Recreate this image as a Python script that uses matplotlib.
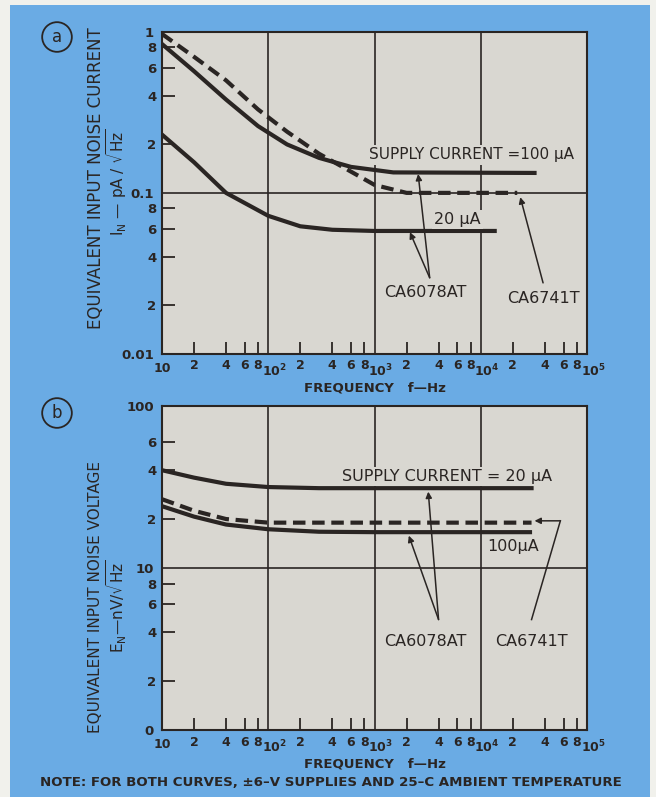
import matplotlib
matplotlib.use("Agg")
import matplotlib.pyplot as plt
from matplotlib.patches import Rectangle
from matplotlib.transforms import ScaledTranslation

# ---- data ----
# (a) equivalent input noise current, pA/sqrt(Hz)
freq_a_6741 = [10, 20, 40, 80, 150, 300, 500, 1000, 2000, 22000]
noise_a_6741 = [0.97, 0.70, 0.50, 0.33, 0.24, 0.175, 0.145, 0.112, 0.10, 0.10]
freq_a_100u = [10, 20, 40, 80, 150, 300, 600, 1500, 32000]
noise_a_100u = [0.84, 0.57, 0.38, 0.26, 0.20, 0.165, 0.145, 0.134, 0.133]
freq_a_20u = [10, 20, 40, 100, 200, 400, 1000, 13500]
noise_a_20u = [0.23, 0.155, 0.10, 0.072, 0.062, 0.059, 0.058, 0.058]

# (b) equivalent input noise voltage, nV/sqrt(Hz)
freq_b_20u = [10, 20, 40, 100, 300, 30000]
noise_b_20u = [40, 36, 33, 31.5, 31, 31]
freq_b_6741 = [10, 20, 40, 100, 30000]
noise_b_6741 = [26.5, 22.5, 20, 19, 19]
freq_b_100u = [10, 20, 40, 100, 300, 1000, 29000]
noise_b_100u = [24, 20.7, 18.5, 17.3, 16.7, 16.6, 16.6]

x_major = [10, 100, 1000, 10000, 100000]
x_major_labels = ['10', '$\\mathregular{10^2}$', '$\\mathregular{10^3}$',
                  '$\\mathregular{10^4}$', '$\\mathregular{10^5}$']
x_minor = [m * d for d in [10, 100, 1000, 10000] for m in (2, 4, 6, 8)]
x_minor_labels = ['2', '4', '6', '8'] * 4

ya_major = [0.01, 0.1, 1]
ya_major_labels = ['0.01', '0.1', '1']
ya_minor = [0.02, 0.04, 0.06, 0.08, 0.2, 0.4, 0.6, 0.8]
ya_minor_labels = ['2', '4', '6', '8'] * 2

yb_major = [1, 10, 100]
yb_major_labels = ['0', '10', '100']
yb_minor = [2, 4, 6, 8, 20, 40, 60]
yb_minor_labels = ['2', '4', '6', '8', '2', '4', '6']

BLUE = '#6aabe4'
PANEL = '#d9d7d1'
INK = '#2a2523'

plt.rcParams['font.family'] = 'DejaVu Sans'
fig = plt.figure(figsize=(6.56, 7.97), dpi=100)
fig.patch.set_facecolor('#f1f1ec')
fig.patches.append(Rectangle((10 / 656, 0), 640 / 656, 792 / 797,
                             transform=fig.transFigure, facecolor=BLUE,
                             edgecolor='none', zorder=-10))

ax_a = fig.add_axes([0.247, 0.556, 0.648, 0.404])
ax_b = fig.add_axes([0.247, 0.084, 0.648, 0.407])

shift = ScaledTranslation(6 / 100, 0, fig.dpi_scale_trans)


def style_axes(ax, ymin, ymax, ymaj, ymaj_lab, ymin_t, ymin_lab):
    ax.set_facecolor(PANEL)
    ax.set_xscale('log')
    ax.set_yscale('log')
    ax.set_xlim(10, 100000)
    ax.set_ylim(ymin, ymax)
    ax.set_xticks(x_major)
    ax.set_xticklabels(x_major_labels)
    ax.set_xticks(x_minor, minor=True)
    ax.set_xticklabels(x_minor_labels, minor=True)
    ax.set_yticks(ymaj)
    ax.set_yticklabels(ymaj_lab)
    ax.set_yticks(ymin_t, minor=True)
    ax.set_yticklabels(ymin_lab, minor=True)
    ax.tick_params(which='major', length=0, labelsize=9.5, labelcolor=INK)
    ax.tick_params(axis='x', which='major', pad=6, labelsize=9)
    ax.tick_params(axis='y', which='major', pad=6)
    ax.tick_params(which='minor', direction='in', length=9, width=1.3,
                   color=INK, labelsize=9.5, labelcolor=INK, pad=4)
    ax.tick_params(axis='x', which='minor', labelsize=9)
    for lab in ax.get_xticklabels(which='both') + ax.get_yticklabels(which='both'):
        lab.set_fontweight('bold')
    # decade labels sit a little to the right of their gridline
    for lab in ax.get_xticklabels()[1:]:
        lab.set_transform(lab.get_transform() + shift)
    ax.grid(True, which='major', color=INK, lw=1.2)
    for side in ['top', 'right', 'left', 'bottom']:
        ax.spines[side].set_color(INK)
        ax.spines[side].set_linewidth(1.5)
    ax.set_xlabel('FREQUENCY   f\u2014Hz', fontsize=9.5, fontweight='bold',
                  color=INK, labelpad=2)


dash = (0, (3, 1.6))
txt_box = dict(facecolor=PANEL, edgecolor='none', pad=1.5)
arrow = dict(arrowstyle='-|>', color=INK, lw=1.1, mutation_scale=9,
             shrinkA=0, shrinkB=0)

# ---- panel (a) ----
style_axes(ax_a, 0.01, 1, ya_major, ya_major_labels, ya_minor, ya_minor_labels)
ax_a.plot(freq_a_6741, noise_a_6741, color=INK, lw=3, ls=dash)
ax_a.plot(freq_a_100u, noise_a_100u, color=INK, lw=3)
ax_a.plot(freq_a_20u, noise_a_20u, color=INK, lw=3)

ax_a.text(8100, 0.172, 'SUPPLY CURRENT =100 \u03bcA', ha='center', va='center',
          fontsize=11, color=INK, bbox=txt_box)
ax_a.text(6000, 0.068, '20 \u03bcA', ha='center', va='center', fontsize=11.5,
          color=INK, bbox=txt_box)
ax_a.text(3000, 0.024, 'CA6078AT', ha='center', va='center', fontsize=11.5,
          color=INK, bbox=txt_box)
ax_a.text(39000, 0.022, 'CA6741T', ha='center', va='center', fontsize=11.5,
          color=INK, bbox=txt_box)
ax_a.annotate('', xy=(2570, 0.131), xytext=(3300, 0.0297), arrowprops=arrow)
ax_a.annotate('', xy=(2150, 0.057), xytext=(3300, 0.0297), arrowprops=arrow)
ax_a.annotate('', xy=(23500, 0.094), xytext=(38500, 0.0276), arrowprops=arrow)

# ---- panel (b) ----
style_axes(ax_b, 1, 100, yb_major, yb_major_labels, yb_minor, yb_minor_labels)
ax_b.plot(freq_b_20u, noise_b_20u, color=INK, lw=3)
ax_b.plot(freq_b_6741, noise_b_6741, color=INK, lw=3, ls=dash)
ax_b.plot(freq_b_100u, noise_b_100u, color=INK, lw=3)

ax_b.text(4800, 36.5, 'SUPPLY CURRENT = 20 \u03bcA', ha='center', va='center',
          fontsize=11.5, color=INK, bbox=txt_box)
ax_b.text(20000, 13.5, '100\u03bcA', ha='center', va='center', fontsize=11.5,
          color=INK, bbox=txt_box)
ax_b.text(3000, 3.5, 'CA6078AT', ha='center', va='center', fontsize=11.5,
          color=INK, bbox=txt_box)
ax_b.text(30000, 3.5, 'CA6741T', ha='center', va='center', fontsize=11.5,
          color=INK, bbox=txt_box)
ax_b.annotate('', xy=(3200, 29.5), xytext=(4000, 4.8), arrowprops=arrow)
ax_b.annotate('', xy=(2100, 15.8), xytext=(4000, 4.8), arrowprops=arrow)
ax_b.plot([30000, 56000], [4.8, 19.5], color=INK, lw=1.1)
ax_b.annotate('', xy=(32000, 19.5), xytext=(56000, 19.5), arrowprops=arrow)

# y axis titles (two lines each, placed like the original lettering)
ylab_a = [('EQUIVALENT INPUT NOISE CURRENT', 96, 178, 12),
          ('$\\mathregular{I_N}$ \u2014 pA / $\\sqrt{\\mathregular{Hz}}$', 117, 182, 11)]
ylab_b = [('EQUIVALENT INPUT NOISE VOLTAGE', 96, 597, 11),
          ('$\\mathregular{E_N}$\u2014nV/$\\sqrt{\\mathregular{Hz}}$', 117, 606, 11)]
for s, xp, yp, fs in ylab_a + ylab_b:
    fig.text(xp / 656, 1 - yp / 797, s, rotation=90, ha='center', va='center',
             fontsize=fs, color=INK)

# panel tags
for tag, ypx in [('a', 37), ('b', 413)]:
    fig.text(57 / 656, 1 - ypx / 797, tag, ha='center', va='center',
             fontsize=12, color=INK,
             bbox=dict(boxstyle='circle,pad=0.35', facecolor='none',
                       edgecolor=INK, lw=1.3))

fig.text(331 / 656, 1 - 783 / 797,
         'NOTE: FOR BOTH CURVES, \u00b16\u2013V SUPPLIES AND 25\u2013C AMBIENT TEMPERATURE',
         ha='center', va='center', fontsize=9.6, fontweight='bold', color=INK)

fig.savefig('out.png', dpi=100, facecolor=fig.get_facecolor())
